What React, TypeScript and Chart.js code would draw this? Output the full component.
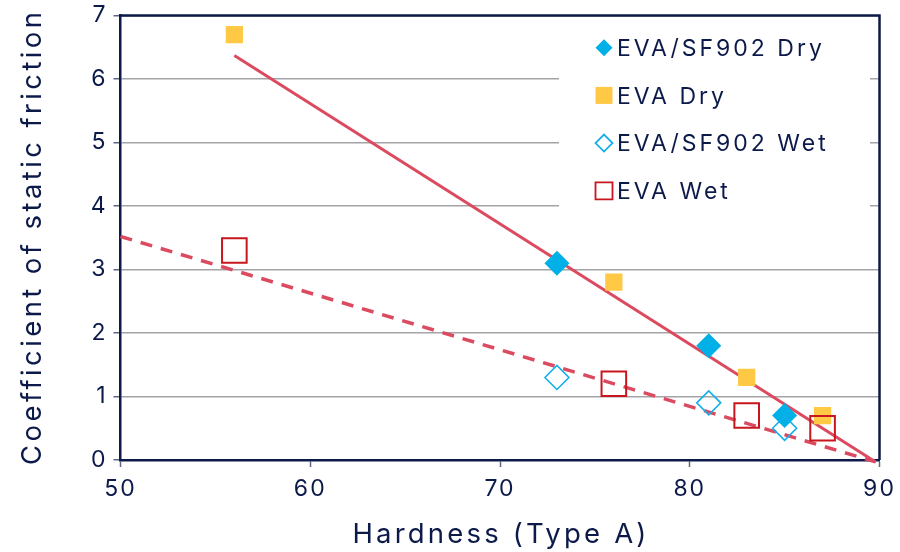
import React, { useEffect, useRef } from "react";
import { Chart, registerables } from "chart.js";

Chart.register(...registerables);

const NAVY = "#0c1a4a";
const FONT = "Inter, 'Noto Sans', sans-serif";
const TREND = "#dc4a5f";

// Shore A hardness of each compound and its measured coefficient
const sf902Hardness = [73, 81, 85];
const sf902Dry = [3.1, 1.8, 0.7];
const sf902Wet = [1.3, 0.9, 0.5];
const evaHardness = [56, 76, 83, 87];
const evaDry = [6.7, 2.8, 1.3, 0.7];
const evaWet = [3.3, 1.2, 0.7, 0.5];

// Linear trend lines (end points)
const dryTrendX = [56, 89.8];
const dryTrendY = [6.37, -0.03];
const wetTrendX = [50, 89.8];
const wetTrendY = [3.52, -0.03];

const xTickValues = [50, 60, 70, 80, 90];
const yTickValues = [0, 1, 2, 3, 4, 5, 6, 7];

const xTitle = "Hardness (Type A)";
const yTitle = "Coefficient of static friction";

const pairs = (xs: number[], ys: number[]) => xs.map((x, i) => ({ x, y: ys[i] }));

type Marker = "diamondFill" | "squareFill" | "diamondOpen" | "squareOpen";

// Wider tracking for the axis numbers
const tracking = {
  id: "tracking",
  beforeDraw(chart: any) {
    (chart.ctx as any).letterSpacing = "2px";
  },
};

// Frame, axis titles and a legend inside the plot on a white panel
const decorations = {
  id: "decorations",
  beforeDatasetsDraw(chart: any) {
    const { ctx } = chart;
    ctx.save();
    ctx.fillStyle = "#ffffff";
    ctx.fillRect(559, 17, 311, 208);
    ctx.restore();
  },
  afterDraw(chart: any) {
    const { ctx, chartArea } = chart;
    ctx.save();
    ctx.strokeStyle = NAVY;
    ctx.lineWidth = 2.5;
    ctx.beginPath();
    ctx.moveTo(chartArea.left, chartArea.top);
    ctx.lineTo(chartArea.right, chartArea.top);
    ctx.lineTo(chartArea.right, chartArea.bottom);
    ctx.stroke();

    // axis titles
    ctx.fillStyle = NAVY;
    ctx.textAlign = "center";
    ctx.textBaseline = "alphabetic";
    ctx.font = `27.5px ${FONT}`;
    ctx.letterSpacing = "3.2px";
    ctx.fillText(xTitle, (chartArea.left + chartArea.right) / 2 + 1, 543);
    ctx.save();
    ctx.translate(41, (chartArea.top + chartArea.bottom) / 2);
    ctx.rotate(-Math.PI / 2);
    ctx.letterSpacing = "3.4px";
    ctx.fillText(yTitle, 1, 0);
    ctx.restore();

    // legend
    const entries = chart.data.datasets.filter((d: any) => d.marker);
    entries.forEach((d: any, i: number) => {
      const cy = 47.7 + i * 47.7;
      const cx = 604;
      const m: Marker = d.marker;
      ctx.beginPath();
      if (m === "diamondFill" || m === "diamondOpen") {
        const r = 8.5;
        ctx.moveTo(cx - r, cy);
        ctx.lineTo(cx, cy - r);
        ctx.lineTo(cx + r, cy);
        ctx.lineTo(cx, cy + r);
        ctx.closePath();
      } else {
        ctx.rect(cx - 8.5, cy - 8.5, 17, 17);
      }
      if (m === "diamondFill" || m === "squareFill") {
        ctx.fillStyle = d.backgroundColor;
        ctx.fill();
      } else {
        ctx.strokeStyle = d.borderColor;
        ctx.lineWidth = 1.8;
        ctx.stroke();
      }
      ctx.fillStyle = NAVY;
      ctx.font = `23px ${FONT}`;
      ctx.letterSpacing = "3px";
      ctx.textAlign = "left";
      ctx.textBaseline = "alphabetic";
      ctx.fillText(d.label, 617, cy + 8.3);
    });
    ctx.restore();
  },
};

export default function App() {
  const canvasRef = useRef<HTMLCanvasElement | null>(null);

  useEffect(() => {
    const canvas = canvasRef.current;
    if (!canvas) return;
    const chart = new Chart(canvas, {
      type: "scatter",
      data: {
        datasets: [
          {
            label: "Dry trend",
            data: pairs(dryTrendX, dryTrendY),
            showLine: true,
            pointRadius: 0,
            borderColor: TREND,
            borderWidth: 3,
            clip: false,
            order: 5,
          } as any,
          {
            label: "Wet trend",
            data: pairs(wetTrendX, wetTrendY),
            showLine: true,
            pointRadius: 0,
            borderColor: TREND,
            borderWidth: 3.5,
            borderDash: [12, 9],
            clip: false,
            order: 5,
          } as any,
          {
            label: "EVA/SF902 Dry",
            marker: "diamondFill",
            data: pairs(sf902Hardness, sf902Dry),
            pointStyle: "rectRot",
            pointRadius: 12.5,
            backgroundColor: "#00b0e6",
            borderColor: "#00b0e6",
            borderWidth: 0,
            order: 4,
          } as any,
          {
            label: "EVA Dry",
            marker: "squareFill",
            data: pairs(evaHardness, evaDry),
            pointStyle: "rect",
            pointRadius: 12.2,
            backgroundColor: "#ffc845",
            borderColor: "#ffc845",
            borderWidth: 0,
            order: 3,
          } as any,
          {
            label: "EVA/SF902 Wet",
            marker: "diamondOpen",
            data: pairs(sf902Hardness, sf902Wet),
            pointStyle: "rectRot",
            pointRadius: 12,
            backgroundColor: "rgba(0,0,0,0)",
            borderColor: "#14aeea",
            borderWidth: 1.6,
            order: 2,
          } as any,
          {
            label: "EVA Wet",
            marker: "squareOpen",
            data: pairs(evaHardness, evaWet),
            pointStyle: "rect",
            pointRadius: 17.4,
            backgroundColor: "rgba(0,0,0,0)",
            borderColor: "#c8161e",
            borderWidth: 2,
            order: 1,
          } as any,
        ],
      },
      options: {
        animation: false,
        responsive: true,
        maintainAspectRatio: false,
        layout: { autoPadding: false, padding: { top: 15.5, right: 20.5, left: 0, bottom: 0 } },
        plugins: { legend: { display: false }, tooltip: { enabled: false } },
        scales: {
          x: {
            type: "linear",
            min: 50,
            max: 90,
            afterFit: (s: any) => {
              s.height = 92;
              s.paddingLeft = 0;
              s.paddingRight = 0;
            },
            afterBuildTicks: (s: any) => {
              s.ticks = xTickValues.map((v) => ({ value: v }));
            },
            grid: {
              drawOnChartArea: false,
              drawTicks: true,
              tickLength: 7,
              tickColor: "#5e6585",
              tickWidth: 1.5,
            },
            border: { color: NAVY, width: 2.5 },
            ticks: { color: NAVY, font: { family: FONT, size: 23 }, padding: 8 },
          },
          y: {
            type: "linear",
            min: 0,
            max: 7,
            afterFit: (s: any) => {
              s.width = 120.5;
              s.paddingTop = 0;
              s.paddingBottom = 0;
            },
            afterBuildTicks: (s: any) => {
              s.ticks = yTickValues.map((v) => ({ value: v }));
            },
            grid: {
              color: "#a3a3a8",
              lineWidth: 1.5,
              drawTicks: true,
              tickLength: 7,
              tickColor: "#5e6585",
              tickWidth: 1.5,
            },
            border: { color: NAVY, width: 2.5 },
            ticks: { color: NAVY, font: { family: FONT, size: 23 }, padding: 6 },
          },
        },
      },
      plugins: [tracking, decorations],
    });
    return () => chart.destroy();
  }, []);

  return (
    <div style={{ position: "fixed", left: 0, top: 0, width: 900, height: 552, background: "#ffffff" }}>
      <canvas ref={canvasRef} />
    </div>
  );
}
